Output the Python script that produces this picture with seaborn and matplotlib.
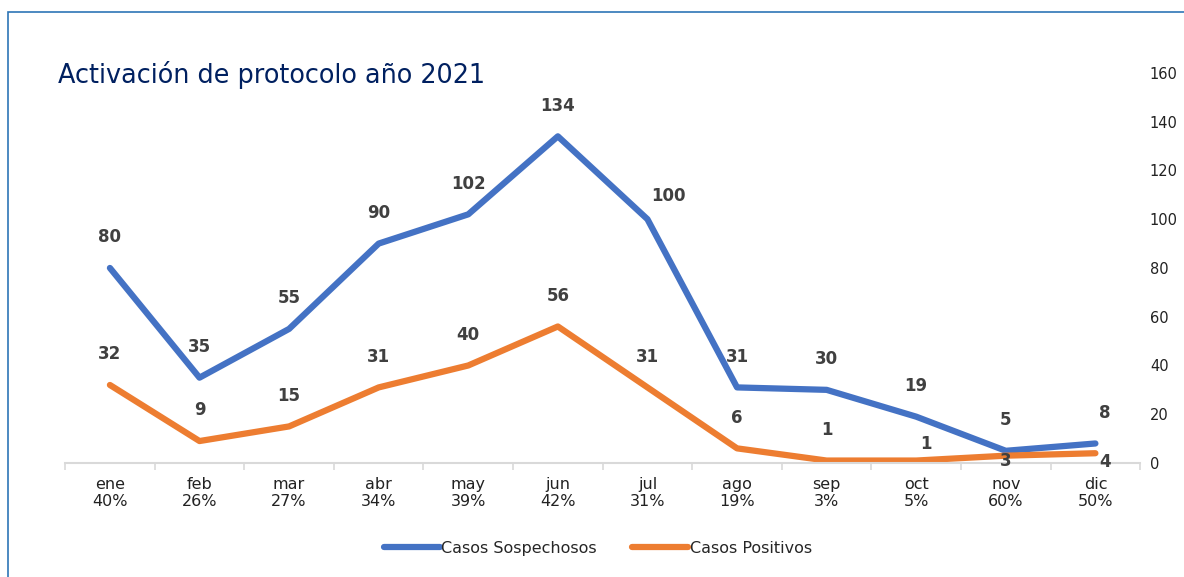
import pandas as pd
import numpy as np
import matplotlib.pyplot as plt
import seaborn as sns
from matplotlib.patches import Rectangle
from matplotlib.lines import Line2D

# Data
meses = ['ene', 'feb', 'mar', 'abr', 'may', 'jun', 'jul', 'ago', 'sep', 'oct', 'nov', 'dic']
porcentajes = ['40%', '26%', '27%', '34%', '39%', '42%', '31%', '19%', '3%', '5%', '60%', '50%']
sospechosos = [80, 35, 55, 90, 102, 134, 100, 31, 30, 19, 5, 8]
positivos = [32, 9, 15, 31, 40, 56, 31, 6, 1, 1, 3, 4]

df = pd.DataFrame({
    'pos': list(range(12)) * 2,
    'valor': sospechosos + positivos,
    'serie': ['Casos Sospechosos'] * 12 + ['Casos Positivos'] * 12,
})

sns.set_style('white')
plt.rcParams['font.family'] = ['DejaVu Sans']

fig = plt.figure(figsize=(11.84, 5.77), dpi=100)
ax = fig.add_axes([0.055, 0.1976, 0.908, 0.676])

colores = {'Casos Sospechosos': '#4472C4', 'Casos Positivos': '#ED7D31'}
sns.lineplot(data=df, x='pos', y='valor', hue='serie', palette=colores,
             linewidth=4.5, ax=ax, legend=False, solid_capstyle='round')

# data labels
lbl = dict(ha='center', va='center', fontsize=12, fontweight='bold', color='#404040')
for i, v in enumerate(sospechosos):
    off = (0, 22)
    if meses[i] == 'jul':
        off = (15, 17)
    elif meses[i] == 'dic':
        off = (7, 22)
    ax.annotate(str(v), (i, v), xytext=off, textcoords='offset points', **lbl)
for i, v in enumerate(positivos):
    off = (0, 22)
    if meses[i] == 'oct':
        off = (7, 12)
    elif meses[i] == 'nov':
        off = (0, -4)
    elif meses[i] == 'dic':
        off = (7, -6)
    ax.annotate(str(v), (i, v), xytext=off, textcoords='offset points', **lbl)

ax.set_xlim(-0.5, 11.5)
ax.set_ylim(0, 160)
ax.set_xticks(range(12))
ax.set_xticklabels([f'{m}\n{p}' for m, p in zip(meses, porcentajes)], fontsize=11.5, color='#222222')
ax.set_xticks(np.arange(-0.5, 12, 1), minor=True)
ax.tick_params(axis='x', which='major', bottom=False, length=0, pad=10)
ax.tick_params(axis='x', which='minor', bottom=True, length=5, color='#d9d9d9', width=1.2, direction='out')
ax.yaxis.tick_right()
ax.set_yticks(range(0, 161, 20))
ax.tick_params(axis='y', length=0, pad=7, labelsize=10.5, labelcolor='#222222')
ax.set_xlabel('')
ax.set_ylabel('')
for s in ['top', 'left', 'right']:
    ax.spines[s].set_visible(False)
ax.spines['bottom'].set_color('#d9d9d9')
ax.spines['bottom'].set_linewidth(1.5)

fig.text(0.049, 0.870, 'Activación de protocolo año 2021', fontsize=18.4, color='#002060', va='center')

# legend
handles = [Line2D([], [], color=c, linewidth=4.5, solid_capstyle='round') for c in colores.values()]
fig.legend(handles, list(colores.keys()), loc='center', bbox_to_anchor=(0.505, 0.05), ncol=2,
           frameon=False, fontsize=11.5, handlelength=3.5, handletextpad=0.1, columnspacing=2.2)

# chart border
fig.patches.append(Rectangle((0.007, -0.1), 1.1, 1.079, transform=fig.transFigure,
                             fill=False, edgecolor='#2E75B6', linewidth=1.2))

fig.savefig('out.png', dpi=100)
